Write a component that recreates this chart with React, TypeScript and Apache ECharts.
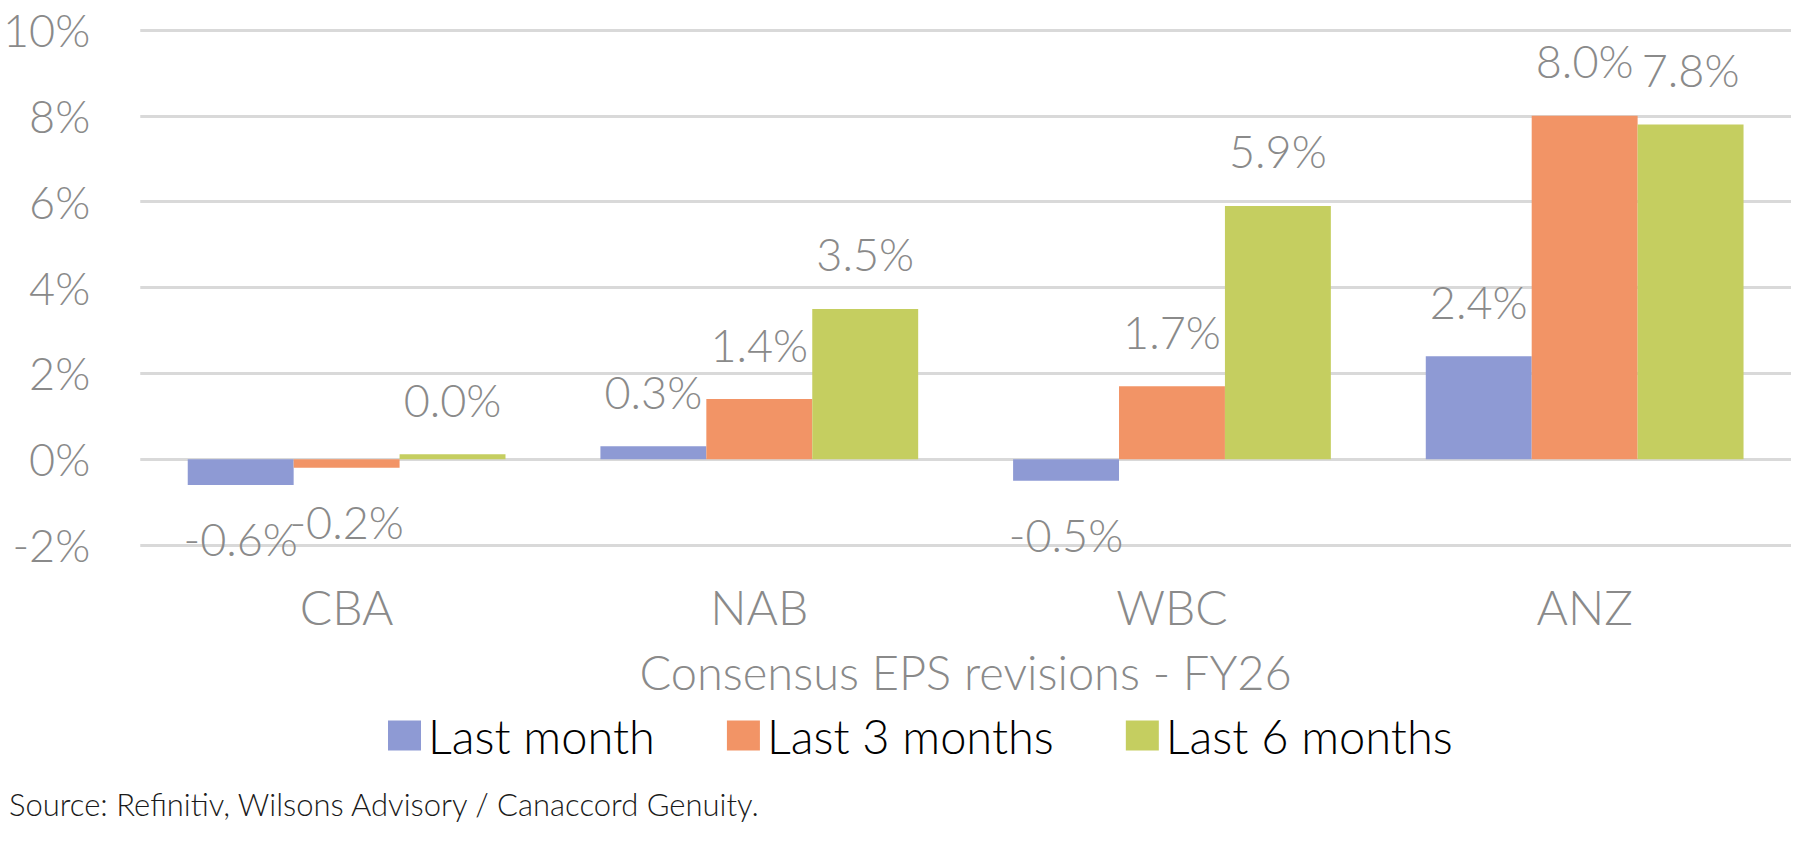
import React, { useEffect, useRef } from "react";
import * as echarts from "echarts";

const categories = ["CBA", "NAB", "WBC", "ANZ"];
const seriesNames = ["Last month", "Last 3 months", "Last 6 months"];
const lastMonth = [-0.6, 0.3, -0.5, 2.4];
const last3Months = [-0.2, 1.4, 1.7, 8.0];
const last6Months = [0.0, 3.5, 5.9, 7.8];
const seriesColors = ["#8E9AD4", "#F29466", "#C5CE60"];
const axisTitle = "Consensus EPS revisions - FY26";
const sourceText = "Source: Refinitiv, Wilsons Advisory / Canaccord Genuity.";

const FONT = "Lato";
const GREY = "#8A8A8A";

export default function App() {
  const ref = useRef<HTMLDivElement>(null);
  useEffect(() => {
    if (!ref.current) return;
    const chart = echarts.init(ref.current, null, { renderer: "svg" });
    const allValues = [lastMonth, last3Months, last6Months];
    const labelStyle = {
      show: true,
      fontFamily: FONT,
      fontWeight: 300,
      fontSize: 45,
      color: GREY,
      distance: 32,
      formatter: (p: any) => Number(p.value).toFixed(1) + "%",
    };
    const series = allValues.map((vals, i) => ({
      name: seriesNames[i],
      type: "bar",
      barGap: "0%",
      barCategoryGap: "23%",
      barMinHeight: i === 2 ? 5 : 0,
      itemStyle: { color: seriesColors[i] },
      label: labelStyle,
      data: vals.map((v) => ({
        value: v,
        label: { position: v < 0 ? "bottom" : "top" },
      })),
    }));
    chart.setOption({
      animation: false,
      grid: { left: 140, right: 9, top: 30, bottom: 320, containLabel: false },
      legend: {
        data: seriesNames,
        left: 383,
        top: 707,
        itemWidth: 33,
        itemHeight: 30,
        itemGap: 72,
        icon: "rect",
        textStyle: {
          fontFamily: FONT,
          fontWeight: 300,
          fontSize: 47,
          color: "#000000",
          padding: [0, 0, 0, 2],
        },
      },
      xAxis: {
        type: "category",
        data: categories,
        axisLine: { show: false, onZero: false },
        axisTick: { show: false },
        axisLabel: {
          fontFamily: FONT,
          fontWeight: 300,
          fontSize: 48,
          color: GREY,
          margin: 37,
        },
        name: axisTitle,
        nameLocation: "middle",
        nameGap: 127,
        nameTextStyle: {
          fontFamily: FONT,
          fontWeight: 300,
          fontSize: 47,
          color: GREY,
          verticalAlign: "middle",
        },
      },
      yAxis: {
        type: "value",
        min: -2,
        max: 10,
        interval: 2,
        axisLine: { show: false },
        axisTick: { show: false },
        splitLine: { lineStyle: { color: "#D9D9D9", width: 3 } },
        axisLabel: {
          fontFamily: FONT,
          fontWeight: 300,
          fontSize: 45,
          color: GREY,
          margin: 50,
          formatter: "{value}%",
        },
      },
      graphic: [
        {
          type: "text",
          left: 9,
          top: 788,
          style: {
            text: sourceText,
            fontFamily: FONT,
            fontWeight: 300,
            fontSize: 31,
            fill: "#1A1A1A",
          },
        },
      ],
      series,
    });
    return () => chart.dispose();
  }, []);
  return (
    <div
      ref={ref}
      style={{ position: "fixed", left: 0, top: 0, width: 1800, height: 865, background: "#fff" }}
    />
  );
}
